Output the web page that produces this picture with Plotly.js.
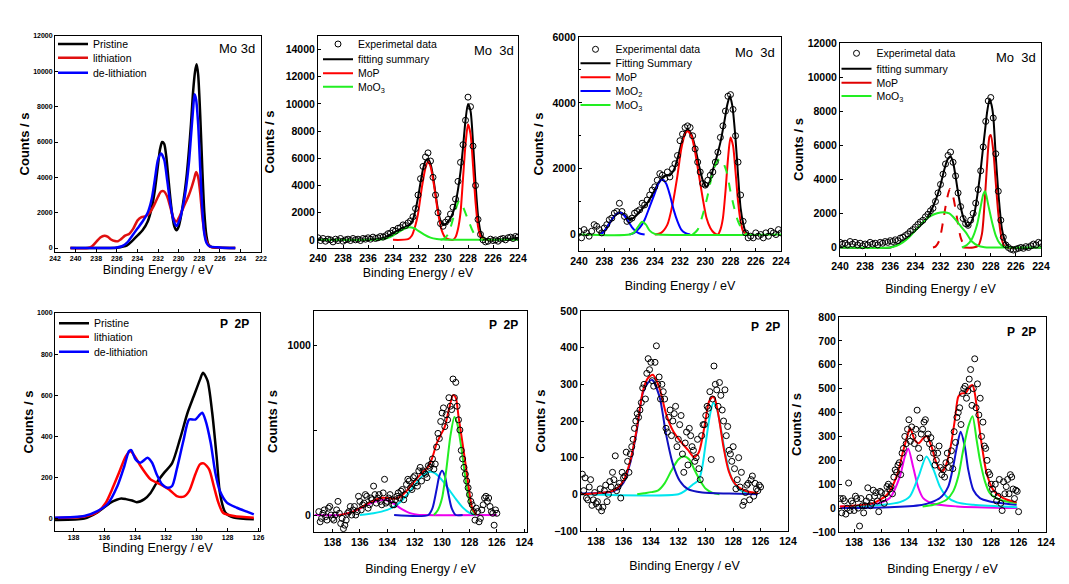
<!DOCTYPE html>
<html><head><meta charset="utf-8">
<script src="https://cdn.plot.ly/plotly-3.0.1.min.js"></script>
<style>html,body{margin:0;padding:0;background:#fff}#chart{width:1069px;height:584px}</style>
</head><body><div id="chart"></div>
<script>
// ---------------- DATA ----------------
// Panel 1: Mo 3d comparison
const p1PristineX = [240.5,238,236,235,234.5,234,233.5,233,232.6,232.3,232,231.8,231.6,231.4,231.2,231,230.8,230.6,230.4,230.2,230,229.8,229.6,229.4,229.2,229,228.8,228.6,228.4,228.25,228.1,227.9,227.7,227.5,227.3,227.1,226.8,226,224.5];
const p1PristineY = [0,0,20,150,400,700,1000,1500,2300,3300,4700,5600,6000,5900,5200,4000,2800,1800,1200,1000,1200,1700,2400,3200,4200,5500,7000,8800,10000,10400,9800,7500,4500,2000,700,200,50,10,0];
const p1LithX = [240.5,238.8,238.4,238,237.6,237.2,236.9,236.6,236.2,235.9,235.6,235.2,234.8,234.4,234,233.6,233.2,232.8,232.4,232,231.7,231.4,231.1,230.8,230.5,230.2,229.9,229.6,229.3,229,228.7,228.5,228.3,228.1,227.9,227.7,227.5,227.3,227,226.8,224.5];
const p1LithY = [0,0,100,350,600,700,650,500,400,380,500,700,800,1100,1550,1750,1800,2000,2400,2900,3200,3200,2900,2300,1700,1500,1800,2200,2600,3000,3500,3900,4300,4000,3100,1800,900,400,100,50,0];
const p1DelithX = [240.5,237,236,235.5,235,234.5,234,233.5,233,232.6,232.3,232,231.7,231.4,231.1,230.8,230.5,230.2,229.9,229.6,229.3,229,228.8,228.6,228.45,228.3,228.1,227.9,227.7,227.5,227.3,227,226,224.5];
const p1DelithY = [0,0,30,100,300,700,1100,1500,2000,2800,3900,5000,5350,5000,3800,2500,1600,1250,1600,2300,3300,4800,6300,7800,8700,8400,7000,4500,2200,800,300,100,30,0];

// Shared x grid of experimental points (Mo 3d)
const moExpX = [240.0,239.8,239.6,239.4,239.2,239.0,238.8,238.6,238.4,238.2,238.0,237.8,237.6,237.4,237.2,237.0,236.8,236.6,236.4,236.2,236.0,235.8,235.6,235.4,235.2,235.0,234.8,234.6,234.4,234.2,234.0,233.8,233.6,233.4,233.2,233.0,232.8,232.6,232.4,232.2,232.0,231.8,231.6,231.4,231.2,231.0,230.8,230.6,230.4,230.2,230.0,229.8,229.6,229.4,229.2,229.0,228.8,228.6,228.4,228.2,228.0,227.8,227.6,227.4,227.2,227.0,226.8,226.6,226.4,226.2,226.0,225.8,225.6,225.4,225.2,225.0,224.8,224.6,224.4,224.2,224.0];

// Panel 2
const p2ExpY = [150,-50,100,-100,50,0,-150,50,-50,100,-100,0,50,-50,100,0,50,-50,100,50,150,50,200,100,150,250,200,300,450,500,700,650,850,900,1100,1050,1250,1400,1700,2300,3300,4500,5400,6100,6400,5800,4600,3300,2000,1200,1000,1300,1500,1900,2400,3000,4300,5700,7000,8800,10500,9800,6900,4000,1500,400,0,-150,-100,50,-50,0,-100,50,100,0,150,200,100,250,200];
const p2SumX = [240,235.4,235.0,234.6,234.2,233.8,233.4,233.0,232.6,232.4,232.2,232.0,231.8,231.6,231.4,231.2,231.0,230.8,230.6,230.4,230.2,230.0,229.8,229.6,229.4,229.2,229.0,228.8,228.6,228.4,228.2,228.0,227.8,227.6,227.4,227.2,227.0,226.8,226.4,225.0,224.0];
const p2SumY = [0,50,100,200,400,600,800,950,1150,1500,2200,3100,4200,5200,5800,5950,5600,4700,3400,2200,1400,1100,1150,1350,1600,2000,2700,3700,5000,6800,8800,10000,9500,7200,4200,1800,600,150,0,50,150];
const p2MoPX = [234,232.8,232.5,232.2,232.0,231.7,231.4,231.2,231.0,230.7,230.4,230.1,229.8,229.5,229.2,229.0,228.8,228.6,228.4,228.2,228.0,227.8,227.6,227.4,227.2,227.0,226.7,226];
const p2MoPY = [0,50,300,1100,1900,3800,5300,5750,5400,3900,2000,700,150,20,0,200,800,2000,4500,7000,8500,7800,5500,2800,1000,250,20,0];
const p2MoO3X = [240,235.5,235,234.5,234,233.5,233,232.7,232.3,232,231.5,231,230.5,230,229.6,229.3,226.8,224];
const p2MoO3Y = [0,0,30,120,320,600,850,930,850,680,380,160,60,20,0,0,0,0];
const p2MoO3bX = [230.2,229.9,229.6,229.3,229.0,228.7,228.5,228.3,228.0,227.7,227.4,227.0,226.7];
const p2MoO3bY = [0,100,400,1200,2200,2900,2700,2200,1500,800,300,50,0];

// Panel 3
const p3ExpY = [100,-100,150,50,-50,100,300,250,150,50,200,300,450,500,650,700,950,700,550,400,450,500,650,700,750,950,900,1050,1200,1350,1450,1650,1850,1800,1700,1900,1750,2000,2150,2400,2850,3050,3250,3300,3250,3000,2600,2200,1900,1550,1500,1650,1800,1900,2200,2500,2950,3300,3750,4200,4250,3800,3000,2200,1200,400,50,-100,-50,-100,50,-50,0,-100,50,-50,100,50,0,150,50];
const p3SumX = [238.4,238.0,237.6,237.2,236.9,236.7,236.4,236.1,235.8,235.5,235.2,234.9,234.6,234.3,234.0,233.7,233.4,233.1,232.8,232.5,232.2,231.9,231.6,231.4,231.1,230.8,230.5,230.2,229.95,229.7,229.4,229.1,228.8,228.5,228.25,228.05,227.85,227.6,227.4,227.2,227.0,226.8,226.5];
const p3SumY = [0,100,330,560,660,670,600,480,480,560,700,820,950,1150,1350,1580,1720,1800,1800,1950,2300,2750,3100,3180,3050,2650,2100,1650,1450,1550,1950,2350,2800,3400,3950,4200,3900,2900,1800,800,350,80,0];
const p3MoPX = [234.0,233.5,233.0,232.6,232.2,231.9,231.6,231.4,231.1,230.8,230.5,230.2,229.9,229.6,229.3,229.0,228.8,228.6,228.4,228.2,228.0,227.8,227.6,227.4,227.2,227.0,226.7];
const p3MoPY = [0,50,300,900,1800,2600,3050,3140,3000,2500,1800,1100,500,200,50,0,150,500,1300,2300,2950,2700,1900,1000,400,100,0];
const p3MoO2aX = [238.3,238.0,237.6,237.2,236.9,236.7,236.4,236.1,235.8,235.5,235.2,234.8];
const p3MoO2aY = [0,100,330,560,650,660,570,400,220,100,30,0];
const p3MoO2bX = [236.0,235.6,235.2,234.8,234.4,234.0,233.7,233.4,233.1,232.8,232.5,232.2,231.9,231.6,231.2];
const p3MoO2bY = [0,60,200,450,850,1250,1550,1670,1550,1200,750,400,150,50,0];
const p3MoO3X = [240,236.0,235.6,235.3,235.0,234.7,234.4,234.0,233.8,224];
const p3MoO3Y = [0,0,80,250,390,300,120,20,0,0];
const p3MoO3bX = [231.0,230.6,230.2,229.8,229.4,229.0,228.8,228.6,228.3,228.0,227.7,227.4,227.0,226.7];
const p3MoO3bY = [0,150,600,1200,1900,2250,2300,2200,1900,1300,800,400,100,0];

// Panel 4
const p4ExpY = [300,200,250,150,350,200,300,150,250,100,200,150,300,200,250,150,300,250,350,300,400,350,450,400,550,600,700,800,950,1050,1200,1350,1500,1600,1800,1950,2150,2300,2700,3200,3700,4300,4900,5400,5600,5000,4200,3200,2400,1700,1400,1300,1600,2000,2600,3400,4500,5900,7400,8600,8800,7600,5500,3300,1600,600,150,0,-100,-150,-100,-50,0,-50,50,0,100,200,150,300,250];
const p4SumX = [240,236,235.5,235,234.5,234,233.4,233,232.6,232.1,231.7,231.45,231.2,231.0,230.8,230.6,230.4,230.2,230.0,229.8,229.55,229.3,229.1,228.9,228.75,228.6,228.45,228.3,228.1,227.95,227.8,227.6,227.35,227.1,226.8,226.55,224];
const p4SumY = [0,0,150,350,650,1000,1430,1800,2400,3390,4560,5150,5340,5000,4170,3200,2400,1800,1430,1230,1500,2020,2900,3970,4900,5930,6900,7890,8670,8400,7690,5340,2800,1040,250,0,0];
const p4MoPX = [230.2,229.4,229.0,228.7,228.5,228.3,228.1,228.0,227.8,227.6,227.4,227.2,227.0,226.8,226.2];
const p4MoPY = [0,0,100,800,2500,4800,6500,6600,5700,3800,2000,800,200,0,0];
const p4MoPbX = [232.6,232.4,232.1,231.8,231.5,231.25,231.0,230.7,230.4,230.1,229.8];
const p4MoPbY = [0,50,400,1500,2800,3430,3000,1800,600,100,0];
const p4MoO3X = [240,236,235.5,235,234.5,234,233.5,233,232.5,232,231.7,231.3,231,230.5,230,229.5,229,228.5,228,224];
const p4MoO3Y = [0,0,100,300,600,1000,1400,1750,1950,2050,2070,2000,1800,1350,900,350,100,20,0,0];
const p4MoO3bX = [230.3,229.9,229.5,229.1,228.8,228.6,228.45,228.2,227.9,227.6,227.3,227.0,226.7];
const p4MoO3bY = [0,150,500,1300,2400,3100,3300,2500,1500,700,250,50,0];

// Panel 5: P 2p comparison
const p5PristineX = [139.2,137.3,136.45,135.6,135.2,134.9,134.6,134.2,133.9,133.4,133.0,132.6,132.1,131.6,131.1,130.6,130.2,129.8,129.6,129.3,129.0,128.7,128.5,128.15,127.6,126.3];
const p5PristineY = [-6,0,30,78,92,98,95,88,80,95,125,175,225,270,385,515,595,675,710,670,515,290,125,30,5,-3];
const p5LithX = [139.2,137.3,136.45,135.9,135.5,135.05,134.6,134.3,134.0,133.65,133.0,132.35,131.8,131.3,130.85,130.5,130.1,129.8,129.55,129.2,128.9,128.6,128.3,127.6,126.3];
const p5LithY = [3,10,32,78,142,223,304,328,300,256,191,167,142,110,107,134,215,264,269,240,159,78,29,13,5];
const p5DelithX = [139.2,137.3,136.45,135.8,135.15,134.7,134.4,134.25,133.97,133.65,133.2,132.9,132.6,132.25,131.9,131.6,131.3,130.85,130.5,130.1,129.8,129.65,129.45,129.1,128.8,128.5,128.05,127.4,126.75,126.3];
const p5DelithY = [5,13,37,70,159,256,328,333,288,272,296,272,215,167,150,159,240,385,482,482,506,515,482,369,223,134,78,53,34,21];

// Shared x grids of experimental points (P 2p), two interleaved scans
const pExpX = [139.0,138.8,138.6,138.4,138.2,138.0,137.8,137.6,137.4,137.2,137.0,136.8,136.6,136.4,136.2,136.0,135.8,135.6,135.4,135.2,135.0,134.8,134.6,134.4,134.2,134.0,133.8,133.6,133.4,133.2,133.0,132.8,132.6,132.4,132.2,132.0,131.8,131.6,131.4,131.2,131.0,130.8,130.6,130.4,130.2,130.0,129.8,129.6,129.4,129.2,129.0,128.8,128.6,128.4,128.2,128.0,127.8,127.6,127.4,127.2,127.0,126.8,126.6,126.4,126.2,126.0];
const pExpX2 = [138.9,138.7,138.5,138.3,138.1,137.9,137.7,137.5,137.3,137.1,136.9,136.7,136.5,136.3,136.1,135.9,135.7,135.5,135.3,135.1,134.9,134.7,134.5,134.3,134.1,133.9,133.7,133.5,133.3,133.1,132.9,132.7,132.5,132.3,132.1,131.9,131.7,131.5,131.3,131.1,130.9,130.7,130.5,130.3,130.1,129.9,129.7,129.5,129.3,129.1,128.9,128.7,128.5,128.3,128.1,127.9,127.7,127.5,127.3,127.1,126.9,126.7,126.5,126.3,126.1];

// Panel 6
const p6ExpY = [20,-20,30,-30,50,-20,0,80,-50,-80,-30,20,0,50,20,80,60,120,40,100,170,70,120,60,210,80,120,60,90,130,140,90,180,200,150,230,170,280,260,240,290,300,270,400,450,600,520,560,640,800,780,560,380,280,200,120,60,-30,20,-20,60,110,100,20,-60,10];
const p6ExpY2 = [-40,10,-10,40,0,-30,30,10,-20,-60,10,50,30,0,110,30,70,110,60,90,120,100,80,130,70,100,90,60,110,100,150,120,210,160,220,190,260,200,250,220,280,330,300,480,550,630,590,690,620,690,640,500,330,240,160,80,20,40,-40,30,100,80,50,10,30];
const p6SumX = [137.5,137,136.5,136,135.5,135,134.5,134,133.5,133,132.5,132,131.5,131,130.7,130.4,130.1,129.8,129.5,129.2,129.0,128.8,128.5,128.2,128,127.8,127.5];
const p6SumY = [0,8,20,40,65,85,100,100,95,110,150,200,245,285,340,420,470,520,620,705,690,580,420,250,130,40,0];
const p6MagX = [139.3,137.5,137,136.5,136,135.5,135,134.5,134.2,133.8,133.4,133,132.6,132.2,131.8,131.5,126];
const p6MagY = [0,0,8,20,38,58,76,87,88,80,60,38,20,8,2,0,0];
const p6CyanX = [136,135,134,133.5,133,132.5,132,131.5,131,130.8,130.5,130,129.5,129,128.5,128,127.5];
const p6CyanY = [0,10,30,50,80,125,175,225,252,254,245,205,150,95,45,12,0];
const p6BlueX = [133.5,131,130.7,130.4,130.2,130.0,129.8,129.6,129.3,129.0,128.5];
const p6BlueY = [0,0,40,150,230,260,230,150,40,0,0];
const p6GreenX = [130.6,130.3,130.0,129.7,129.4,129.1,128.9,128.6,128.3,128.0,127.7,127.5];
const p6GreenY = [0,30,100,260,460,576,540,400,220,80,15,0];

// Panel 7
const p7ExpY = [55,45,-15,40,-15,-25,-35,-45,10,-20,35,60,105,20,-10,45,115,60,130,180,220,230,290,260,370,360,295,405,320,300,260,170,230,200,240,150,215,60,170,180,130,90,150,40,190,215,235,95,350,285,305,230,285,185,110,130,15,100,60,-20,25,-15,50,30,10,20];
const p7ExpY2 = [10,-10,20,-30,5,-20,15,-35,25,0,20,40,10,30,60,50,90,110,150,200,210,250,300,330,340,310,360,300,260,280,180,210,160,220,130,190,110,140,80,160,120,100,70,160,190,240,280,260,300,240,270,200,160,120,90,70,40,20,-30,5,30,40,-5,15,25];
const p7SumX = [139.1,136.7,136.0,135.5,135.05,134.57,134.2,133.85,133.37,132.9,132.4,131.9,131.3,130.85,130.5,130.1,129.77,129.5,129.34,129.05,128.7,128.33,127.85,127.1,126.2];
const p7SumY = [0,11,37,92,174,284,318,326,289,220,174,147,121,101,115,183,252,266,261,211,128,64,28,9,3];
const p7BlueX = [139.1,136.7,136.0,135.5,135.05,134.6,134.2,133.9,133.37,132.9,132.4,131.9,131.3,130.25,128.3,126.2];
const p7BlueY = [2,9,32,87,170,275,305,312,266,165,83,37,14,5,2,0];
const p7GreenX = [135,134.5,134,133.5,133,132.5,132,131.6,131.2,130.8,130.4,130,129.5,129];
const p7GreenY = [0,3,6,10,30,65,95,104,95,65,37,15,4,0];
const p7CyanX = [139.1,132,131.5,131,130.5,130.25,130,129.7,129.45,129.2,128.9,128.6,128.3,128,127.5,127,126.2];
const p7CyanY = [0,0,10,25,40,75,140,215,250,235,180,115,65,35,12,4,0];

// Panel 8
const p8ExpY = [40,40,-25,105,30,-10,40,-75,10,10,85,10,75,65,-15,65,20,90,80,60,160,180,140,250,270,370,340,270,410,210,330,370,310,295,230,200,260,140,130,230,200,165,275,400,350,500,460,540,430,625,520,460,360,250,150,100,60,30,120,-10,60,120,140,80,75,-15];
const p8ExpY2 = [-20,30,0,-10,20,50,0,40,-20,30,45,20,50,30,70,40,60,100,90,130,150,190,230,300,330,280,300,330,250,310,360,290,270,250,180,230,170,160,190,170,240,320,380,420,480,510,490,580,500,420,390,300,260,200,140,80,100,50,20,110,90,60,130,40,70];
const p8SumX = [139.05,136.6,135.6,134.9,134.4,133.98,133.9,133.57,133.3,132.96,132.7,132.35,131.99,131.6,131.38,131.0,130.65,130.4,130.16,129.84,129.55,129.36,129.19,128.94,128.63,128.33,127.85,127.12,126.14];
const p8SumY = [7,21,56,132,243,327,334,285,271,292,302,257,188,153,167,243,369,466,480,483,510,515,480,369,243,146,76,42,24];
const p8MagX = [139,136.6,135.4,134.66,134.3,134.05,133.7,133.3,132.96,132.2,130.5,126.1];
const p8MagY = [7,14,42,132,215,250,174,83,42,18,7,0];
const p8CyanX = [139,135.9,134.66,133.93,133.3,132.72,132.2,131.74,131.26,130.5,129.3,126.1];
const p8CyanY = [4,14,25,49,132,216,160,90,49,24,14,4];
const p8BlueX = [139,135.4,132.96,131.74,131.13,130.77,130.5,130.23,129.92,129.67,129.3,128.82,128.1,126.87,126.14];
const p8BlueY = [0,4,14,42,90,174,257,320,257,160,76,42,28,18,14];
const p8GreenX = [133,132.2,131.26,130.77,130.4,130.04,129.67,129.36,129.06,128.82,128.45,128.1,127.36,126.14];
const p8GreenY = [7,14,35,70,132,243,341,385,285,202,111,63,35,21];

// Labels
const seriesCompare = ['Pristine','lithiation','de-lithiation'];

// ---------------- LAYOUT HELPERS ----------------
const W = 1069, H = 584;
const FONT = 'Liberation Sans, Arial, sans-serif';
const RED = '#ff0000', BLUE = '#0000ff', GREEN = '#22ee22', CYAN = '#00e5ee', MAG = '#ee00ee', BLK = '#000000';

const layout = {
  width: W, height: H, margin: {l:0, r:0, t:0, b:0},
  paper_bgcolor: '#fff', plot_bgcolor: '#fff',
  showlegend: true, annotations: [], font: {family: FONT, color: '#000'}
};
const traces = [];

function axes(n, box, xr, yr, o) {
  const s = n === 1 ? '' : String(n);
  const tf = {family: FONT, size: o.tick, color: '#000', weight: 'bold'};
  const common = {showline: true, linecolor: '#000', linewidth: 1, mirror: true, ticks: 'inside', ticklen: 3,
    tickcolor: '#000', showgrid: false, zeroline: false, tickfont: tf, fixedrange: true};
  layout['xaxis' + s] = Object.assign({}, common, {
    domain: [box[0] / W, box[1] / W], range: xr, anchor: 'y' + s, dtick: 2, tick0: 222,
    title: {text: 'Binding Energy / eV', font: {family: FONT, size: 12.5, color: '#000'}, standoff: o.xs}
  });
  layout['yaxis' + s] = Object.assign({}, common, {
    domain: [1 - box[3] / H, 1 - box[2] / H], range: yr, anchor: 'x' + s, tickformat: 'd',
    title: {text: 'Counts / s', font: {family: FONT, size: 13, color: '#000', weight: 'bold'}, standoff: o.ys}
  }, o.y || {});
  return {x: 'x' + s, y: 'y' + s};
}

let legN = 0;
function legend(px, py, size) {
  legN++;
  const id = legN === 1 ? 'legend' : 'legend' + legN;
  layout[id] = {x: px / W, y: 1 - py / H, xanchor: 'left', yanchor: 'middle', bgcolor: 'rgba(0,0,0,0)',
    borderwidth: 0, font: {family: FONT, size: size || 10.5, color: '#000'}, itemwidth: 30, tracegroupgap: 0,
    itemclick: false, itemdoubleclick: false};
  return id;
}

function line(ax, x, y, color, o) {
  o = o || {};
  const t = {type: 'scatter', mode: 'lines', x: x, y: y, xaxis: ax.x, yaxis: ax.y,
    line: {color: color, width: o.w || 2, shape: 'spline', smoothing: 0.7, dash: o.dash || 'solid'},
    showlegend: !!o.name, name: o.name || 'fit', hoverinfo: 'skip'};
  if (o.leg) t.legend = o.leg;
  traces.push(t);
}
function points(ax, x, y, o) {
  o = o || {};
  const t = {type: 'scatter', mode: 'markers', x: x, y: y, xaxis: ax.x, yaxis: ax.y,
    marker: {symbol: 'circle-open', size: 6, color: '#000', line: {width: 1, color: '#000'}},
    showlegend: !!o.name, name: o.name || 'data', hoverinfo: 'skip'};
  if (o.leg) t.legend = o.leg;
  traces.push(t);
}
function label(text, px, py, size, bold) {
  layout.annotations.push({text: text, x: px / W, y: 1 - py / H, xref: 'paper', yref: 'paper',
    xanchor: 'right', yanchor: 'middle', showarrow: false,
    font: {family: FONT, size: size, color: '#000', weight: bold ? 'bold' : 'normal'}});
}

// ---------------- PANELS ----------------
// Panel 1
let a = axes(1, [55, 261, 36, 252], [242, 222], [-225, 12000], {tick: 7, xs: 3, ys: 0, y: {dtick: 2000}});
line(a, p1PristineX, p1PristineY, BLK, {w: 2.5, name: seriesCompare[0], leg: legend(53, 44)});
line(a, p1LithX, p1LithY, '#e01010', {w: 2.5, name: seriesCompare[1], leg: legend(53, 57.7)});
line(a, p1DelithX, p1DelithY, BLUE, {w: 2.5, name: seriesCompare[2], leg: legend(53, 72.7)});
label('Mo 3d', 257, 48, 13);

// Panel 2
a = axes(2, [318, 518, 36, 248], [240, 224], [-600, 15000], {tick: 10.5, xs: 5, ys: 8, y: {dtick: 2000}});
line(a, p2SumX, p2SumY, BLK, {name: 'fitting summary', leg: legend(318, 59.3)});
line(a, p2MoPX, p2MoPY, RED, {name: 'MoP', leg: legend(318, 73.3)});
line(a, p2MoO3X, p2MoO3Y, GREEN, {name: 'MoO<sub>3</sub>', leg: legend(318, 86.7)});
line(a, p2MoO3bX, p2MoO3bY, GREEN, {dash: 'dash'});
points(a, moExpX, p2ExpY, {name: 'Experimetal data', leg: legend(318, 44)});
label('Mo  3d', 516, 51, 13);

// Panel 3
a = axes(3, [579, 781, 37, 251], [240, 224], [-500, 6000], {tick: 10.5, xs: 15, ys: 5,
  y: {dtick: 2000, minor: {dtick: 1000, ticks: 'inside', ticklen: 2, tickcolor: '#000'}}});
line(a, p3SumX, p3SumY, BLK, {name: 'Fitting Summary', leg: legend(575.5, 63.3)});
line(a, p3MoPX, p3MoPY, RED, {name: 'MoP', leg: legend(575.5, 77.3)});
line(a, p3MoO2aX, p3MoO2aY, BLUE, {name: 'MoO<sub>2</sub>', leg: legend(575.5, 91)});
line(a, p3MoO2bX, p3MoO2bY, BLUE);
line(a, p3MoO3X, p3MoO3Y, GREEN, {name: 'MoO<sub>3</sub>', leg: legend(575.5, 105)});
line(a, p3MoO3bX, p3MoO3bY, GREEN, {dash: 'dash'});
points(a, moExpX, p3ExpY, {name: 'Experimental data', leg: legend(575.5, 49.3)});
label('Mo  3d', 777, 53, 13);

// Panel 4
a = axes(4, [840, 1041, 43, 256], [240, 224], [-500, 12000], {tick: 10.5, xs: 13, ys: 1, y: {dtick: 2000}});
line(a, p4SumX, p4SumY, BLK, {name: 'fitting summary', leg: legend(836.5, 68.7)});
line(a, p4MoPX, p4MoPY, '#e00000', {name: 'MoP', leg: legend(836.5, 82.7)});
line(a, p4MoPbX, p4MoPbY, '#e00000', {dash: 'dash'});
line(a, p4MoO3X, p4MoO3Y, GREEN, {name: 'MoO<sub>3</sub>', leg: legend(836.5, 96)});
line(a, p4MoO3bX, p4MoO3bY, GREEN);
points(a, moExpX, p4ExpY, {name: 'Experimetal data', leg: legend(836.5, 53.3)});
label('Mo  3d', 1038, 57, 13);

// Panel 5
a = axes(5, [55, 260, 313, 531], [139.2, 125.9], [-60, 1000], {tick: 7, xs: 0, ys: 0, y: {dtick: 200}});
line(a, p5PristineX, p5PristineY, BLK, {w: 2.5, name: seriesCompare[0], leg: legend(54, 323.3)});
line(a, p5LithX, p5LithY, RED, {w: 2.5, name: seriesCompare[1], leg: legend(54, 336.7)});
line(a, p5DelithX, p5DelithY, BLUE, {w: 2.5, name: seriesCompare[2], leg: legend(54, 351.7)});
label('P  2P', 251, 324, 12, true);

// Panel 6
a = axes(6, [314, 527, 311, 532], [139.35, 123.8], [-100, 1200], {tick: 10.5, xs: 17, ys: 6,
  y: {dtick: 1000, minor: {dtick: 500, ticks: 'inside', ticklen: 3, tickcolor: '#000'}}});
line(a, p6MagX, p6MagY, MAG);
line(a, p6CyanX, p6CyanY, CYAN);
line(a, p6BlueX, p6BlueY, '#1010d0');
line(a, p6GreenX, p6GreenY, GREEN);
line(a, p6SumX, p6SumY, RED);
points(a, pExpX, p6ExpY);
points(a, pExpX2, p6ExpY2);
label('P  2P', 520, 325, 12, true);

// Panel 7
a = axes(7, [581, 788, 311, 531], [139.1, 124], [-100, 500], {tick: 10.5, xs: 15, ys: 5, y: {dtick: 100}});
line(a, p7CyanX, p7CyanY, CYAN);
line(a, p7GreenX, p7GreenY, GREEN);
line(a, p7BlueX, p7BlueY, '#1010c0');
line(a, p7SumX, p7SumY, RED);
points(a, pExpX, p7ExpY);
points(a, pExpX2, p7ExpY2);
label('P  2P', 782, 327, 12, true);

// Panel 8
a = axes(8, [839, 1046, 317, 532], [139.1, 124], [-100, 800], {tick: 10.5, xs: 17, ys: 7, y: {dtick: 100}});
line(a, p8MagX, p8MagY, MAG);
line(a, p8CyanX, p8CyanY, CYAN);
line(a, p8BlueX, p8BlueY, '#1010d0');
line(a, p8GreenX, p8GreenY, GREEN);
line(a, p8SumX, p8SumY, RED);
points(a, pExpX, p8ExpY);
points(a, pExpX2, p8ExpY2);
label('P  2P', 1038, 332, 12, true);

Plotly.newPlot('chart', traces, layout, {staticPlot: true, displayModeBar: false});
</script></body></html>
